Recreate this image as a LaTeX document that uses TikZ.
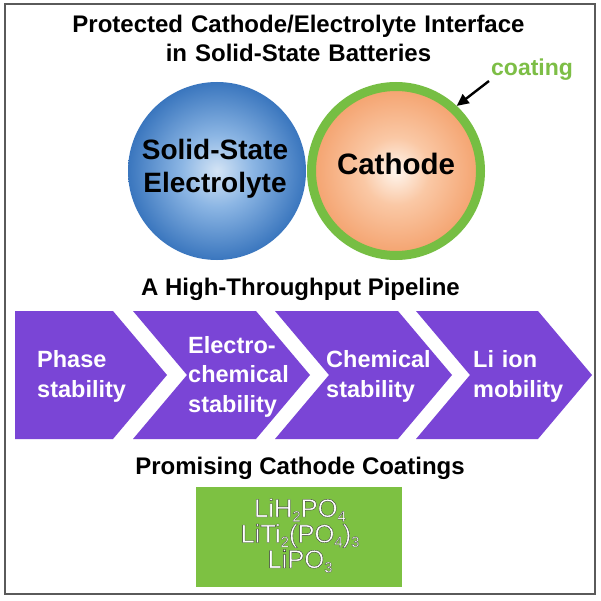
\documentclass[tikz,border=0pt]{standalone}
\usepackage{fontspec}
\setmainfont{Liberation Sans}
\newfontfamily\outfont[FakeBold=1.4]{Liberation Sans}
\usetikzlibrary{arrows.meta}
\definecolor{framegray}{RGB}{90,90,90}
\definecolor{pipepurple}{RGB}{122,69,214}
\definecolor{boxgreen}{RGB}{125,193,66}
\definecolor{ringgreen}{RGB}{118,190,67}
\definecolor{coatgreen}{RGB}{125,190,70}
\definecolor{blueC}{RGB}{212,228,245}
\definecolor{blueM}{RGB}{140,182,228}
\definecolor{blueE}{RGB}{58,118,190}
\definecolor{orC}{RGB}{255,246,238}
\definecolor{orM}{RGB}{250,200,165}
\definecolor{orE}{RGB}{244,162,110}
\pgfdeclareradialshading{bluesh}{\pgfpoint{0bp}{0bp}}{color(0bp)=(blueC); color(10bp)=(blueM); color(25bp)=(blueE); color(50bp)=(blueE)}
\pgfdeclareradialshading{orsh}{\pgfpoint{0bp}{0bp}}{color(0bp)=(orC); color(10bp)=(orM); color(25bp)=(orE); color(50bp)=(orE)}
\newcommand\subdn[1]{\raisebox{-4.5pt}{\fontsize{15}{15}\selectfont #1}}
\tikzset{
  titletext/.style={font=\fontsize{24}{29}\bfseries\selectfont, text=black, inner sep=0pt},
  bigtext/.style={font=\fontsize{28}{33}\bfseries\selectfont, text=black, inner sep=0pt, text width=180pt, align=center},
  stagetext/.style={font=\fontsize{23.5}{30}\bfseries\selectfont, text=white, inner sep=0pt, text width=120pt, align=left},
  chev/.style={fill=pipepurple, draw=none},
  frame/.style={draw=framegray, line width=1.5pt},
  arrowst/.style={draw=black, line width=2.4pt, -{Triangle[length=12pt,width=11pt]}},
  formula/.style={font=\fontsize{25.5}{25.5}\outfont\selectfont, text=white, inner sep=0pt, text width=200pt, align=center}
}
\begin{document}
\begin{tikzpicture}[x=1pt,y=-1pt]
\useasboundingbox (0,0) rectangle (600,601);
\fill[white] (0,0) rectangle (600,601);
\draw[frame] (5,4) rectangle (595,594);

% title
\node (title) [titletext, anchor=base, text width=560pt, align=center] at (298.5,33) {Protected Cathode/Electrolyte Interface\\in Solid-State Batteries};

% particles
\node (sse) [circle, minimum size=178pt, inner sep=0pt, shade, shading=bluesh] at (217,171) {};
\node (ssetext) [bigtext, anchor=base] at (215,160) {Solid-State\\Electrolyte};
\node (cath) [circle, minimum size=169pt, inner sep=0pt, draw=ringgreen, line width=9pt, shade, shading=orsh] at (396,171) {};
\node (cathtext) [font=\fontsize{29.5}{30}\bfseries\selectfont, inner sep=0pt, anchor=base] at (396,175) {Cathode};
\node (coat) [font=\fontsize{23}{23}\bfseries\selectfont, text=coatgreen, inner sep=0pt, anchor=base west] at (491,76) {coating};
\coordinate (arrstart) at (489,81);
\draw[arrowst] (arrstart) -- (cath.47);

% pipeline
\node (pipe) [titletext, anchor=base] at (300.5,295) {A High-Throughput Pipeline};
\fill[chev] (15,311) -- (113,311) -- (167,375) -- (113,439) -- (15,439) -- cycle;
\fill[chev] (133,311) -- (256,311) -- (310,375) -- (256,439) -- (133,439) -- (187,375) -- cycle;
\fill[chev] (275,311) -- (398,311) -- (452,375) -- (398,439) -- (275,439) -- (329,375) -- cycle;
\fill[chev] (416,311) -- (538,311) -- (592,375) -- (538,439) -- (416,439) -- (470,375) -- cycle;
\node (s1) [stagetext, anchor=base west] at (37,367) {Phase\\stability};
\node (s2) [stagetext, anchor=base west, font=\fontsize{23.5}{29.5}\bfseries\selectfont] at (188,353) {Electro-\\chemical\\stability};
\node (s3) [stagetext, anchor=base west] at (326,367) {Chemical\\stability};
\node (s4) [stagetext, anchor=base west] at (473,367) {Li ion\\mobility};

% coatings
\node (prom) [titletext, anchor=base] at (300,474) {Promising Cathode Coatings};
\fill[boxgreen] (196,487) rectangle (402,587);
\node (form) [formula, anchor=base] at (300,517) {\special{pdf:literal direct 0.2 0.2 0.2 RG}LiH\subdn{2}PO\subdn{4}\\LiTi\subdn{2}(PO\subdn{4})\subdn{3}\\LiPO\subdn{3}};
\end{tikzpicture}
\end{document}
